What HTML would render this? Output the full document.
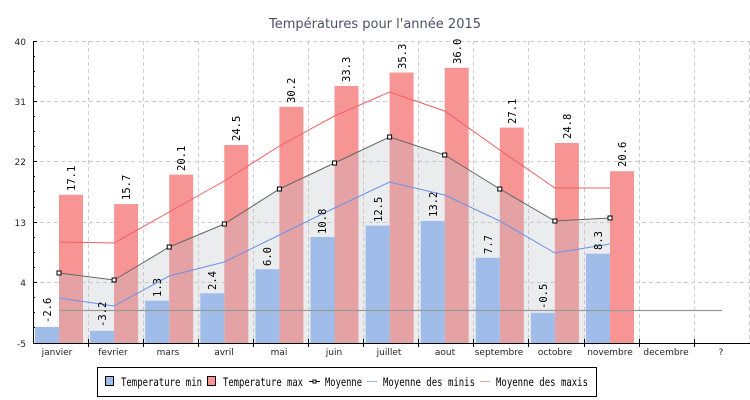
<!DOCTYPE html>
<html><head><meta charset="utf-8"><style>
body{margin:0;background:#fff;width:750px;height:400px;overflow:hidden}
svg{display:block}
.t{font-family:"DejaVu Sans","Liberation Sans",sans-serif;font-size:9px;fill:#222}
.v{font-family:"DejaVu Sans Mono","Liberation Mono",monospace;font-size:10.5px;fill:#000}
.lg{font-family:"DejaVu Sans Mono","Liberation Mono",monospace;font-size:11.5px;fill:#000}
</style></head><body>
<svg width="750" height="400" viewBox="0 0 750 400">
<text x="375" y="28" text-anchor="middle" font-family="DejaVu Sans, Liberation Sans, sans-serif" font-size="13" fill="#4a5068">Températures pour l'année 2015</text>
<g stroke="#ccc" stroke-dasharray="4,3" stroke-width="1">
<line x1="33" y1="41.5" x2="749" y2="41.5"/><line x1="33" y1="101.5" x2="749" y2="101.5"/><line x1="33" y1="161.5" x2="749" y2="161.5"/><line x1="33" y1="222.5" x2="749" y2="222.5"/><line x1="33" y1="282.5" x2="749" y2="282.5"/>
<line x1="88.5" y1="41" x2="88.5" y2="343"/><line x1="143.5" y1="41" x2="143.5" y2="343"/><line x1="198.5" y1="41" x2="198.5" y2="343"/><line x1="253.5" y1="41" x2="253.5" y2="343"/><line x1="308.5" y1="41" x2="308.5" y2="343"/><line x1="363.5" y1="41" x2="363.5" y2="343"/><line x1="418.5" y1="41" x2="418.5" y2="343"/><line x1="473.5" y1="41" x2="473.5" y2="343"/><line x1="528.5" y1="41" x2="528.5" y2="343"/><line x1="584.5" y1="41" x2="584.5" y2="343"/><line x1="639.5" y1="41" x2="639.5" y2="343"/><line x1="694.5" y1="41" x2="694.5" y2="343"/><line x1="749.5" y1="41" x2="749.5" y2="343"/>
</g>
<g fill="#f79595">
<rect x="59" y="194.7" width="24" height="148.3"/><rect x="114.1" y="204.1" width="24" height="138.9"/><rect x="169.2" y="174.6" width="24" height="168.4"/><rect x="224.3" y="145" width="24" height="198"/><rect x="279.4" y="106.8" width="24" height="236.2"/><rect x="334.5" y="86" width="24" height="257"/><rect x="389.6" y="72.5" width="24" height="270.5"/><rect x="444.7" y="67.8" width="24" height="275.2"/><rect x="499.8" y="127.6" width="24" height="215.4"/><rect x="554.9" y="143" width="24" height="200"/><rect x="610" y="171.2" width="24" height="171.8"/>
</g>
<polygon fill="rgba(190,192,198,0.3)" points="59,343 59,273 114.1,280 169.2,247 224.3,224 279.4,189 334.5,163 389.6,137 444.7,155 499.8,189 554.9,221 610,218 610,343"/>
<g fill="#a0bde9">
<rect x="35" y="326.9" width="24" height="16.1"/><rect x="90.1" y="330.9" width="24" height="12.1"/><rect x="145.2" y="300.7" width="24" height="42.3"/><rect x="200.3" y="293.3" width="24" height="49.7"/><rect x="255.4" y="269.2" width="24" height="73.8"/><rect x="310.5" y="237" width="24" height="106"/><rect x="365.6" y="225.6" width="24" height="117.4"/><rect x="420.7" y="220.9" width="24" height="122.1"/><rect x="475.8" y="257.8" width="24" height="85.2"/><rect x="530.9" y="312.8" width="24" height="30.2"/><rect x="586" y="253.7" width="24" height="89.3"/>
</g>
<line x1="59" y1="310.5" x2="722" y2="310.5" stroke="#999" stroke-width="1.2"/>
<polyline fill="none" stroke="#f06060" stroke-width="1" points="59,242 114.1,243 169.2,212 224.3,181 279.4,146 334.5,116 389.6,92 444.7,111 499.8,150 554.9,188 610,188"/>
<polyline fill="none" stroke="#6a92e6" stroke-width="1" points="59,298 114.1,306 169.2,276 224.3,262 279.4,235 334.5,208 389.6,182 444.7,195 499.8,221 554.9,253 610,244"/>
<polyline fill="none" stroke="#666" stroke-width="1" points="59,273 114.1,280 169.2,247 224.3,224 279.4,189 334.5,163 389.6,137 444.7,155 499.8,189 554.9,221 610,218"/>
<g fill="#fff" stroke="#000" stroke-width="1">
<rect x="57" y="271" width="4" height="4"/><rect x="112.1" y="278" width="4" height="4"/><rect x="167.2" y="245" width="4" height="4"/><rect x="222.3" y="222" width="4" height="4"/><rect x="277.4" y="187" width="4" height="4"/><rect x="332.5" y="161" width="4" height="4"/><rect x="387.6" y="135" width="4" height="4"/><rect x="442.7" y="153" width="4" height="4"/><rect x="497.8" y="187" width="4" height="4"/><rect x="552.9" y="219" width="4" height="4"/><rect x="608" y="216" width="4" height="4"/>
</g>
<g class="v">
<text transform="translate(51,323) rotate(-90)">-2.6</text><text transform="translate(106,327) rotate(-90)">-3.2</text><text transform="translate(161,297) rotate(-90)">1.3</text><text transform="translate(216,290) rotate(-90)">2.4</text><text transform="translate(271,266) rotate(-90)">6.0</text><text transform="translate(326,234) rotate(-90)">10.8</text><text transform="translate(382,222) rotate(-90)">12.5</text><text transform="translate(437,217) rotate(-90)">13.2</text><text transform="translate(492,254) rotate(-90)">7.7</text><text transform="translate(547,309) rotate(-90)">-0.5</text><text transform="translate(602,250) rotate(-90)">8.3</text>
<text transform="translate(75,191) rotate(-90)">17.1</text><text transform="translate(130,200) rotate(-90)">15.7</text><text transform="translate(185,171) rotate(-90)">20.1</text><text transform="translate(240,141) rotate(-90)">24.5</text><text transform="translate(295,103) rotate(-90)">30.2</text><text transform="translate(350,82) rotate(-90)">33.3</text><text transform="translate(406,69) rotate(-90)">35.3</text><text transform="translate(461,64) rotate(-90)">36.0</text><text transform="translate(516,124) rotate(-90)">27.1</text><text transform="translate(571,139) rotate(-90)">24.8</text><text transform="translate(626,167) rotate(-90)">20.6</text>
</g>
<g stroke="#000" stroke-width="1">
<line x1="33.5" y1="41" x2="33.5" y2="344"/><line x1="33" y1="343.5" x2="750" y2="343.5"/>
<line x1="33" y1="41.5" x2="37" y2="41.5"/><line x1="33" y1="101.5" x2="37" y2="101.5"/><line x1="33" y1="161.5" x2="37" y2="161.5"/><line x1="33" y1="222.5" x2="37" y2="222.5"/><line x1="33" y1="282.5" x2="37" y2="282.5"/>
<line x1="33" y1="56.5" x2="35" y2="56.5"/><line x1="33" y1="71.5" x2="35" y2="71.5"/><line x1="33" y1="86.5" x2="35" y2="86.5"/><line x1="33" y1="116.5" x2="35" y2="116.5"/><line x1="33" y1="131.5" x2="35" y2="131.5"/><line x1="33" y1="146.5" x2="35" y2="146.5"/><line x1="33" y1="176.5" x2="35" y2="176.5"/><line x1="33" y1="191.5" x2="35" y2="191.5"/><line x1="33" y1="207.5" x2="35" y2="207.5"/><line x1="33" y1="237.5" x2="35" y2="237.5"/><line x1="33" y1="252.5" x2="35" y2="252.5"/><line x1="33" y1="267.5" x2="35" y2="267.5"/><line x1="33" y1="297.5" x2="35" y2="297.5"/><line x1="33" y1="312.5" x2="35" y2="312.5"/><line x1="33" y1="327.5" x2="35" y2="327.5"/>
<line x1="88.5" y1="339" x2="88.5" y2="347"/><line x1="143.5" y1="339" x2="143.5" y2="347"/><line x1="198.5" y1="339" x2="198.5" y2="347"/><line x1="253.5" y1="339" x2="253.5" y2="347"/><line x1="308.5" y1="339" x2="308.5" y2="347"/><line x1="363.5" y1="339" x2="363.5" y2="347"/><line x1="418.5" y1="339" x2="418.5" y2="347"/><line x1="473.5" y1="339" x2="473.5" y2="347"/><line x1="528.5" y1="339" x2="528.5" y2="347"/><line x1="584.5" y1="339" x2="584.5" y2="347"/><line x1="639.5" y1="339" x2="639.5" y2="347"/><line x1="694.5" y1="339" x2="694.5" y2="347"/>
</g>
<g class="t" text-anchor="end">
<text x="26" y="45">40</text><text x="26" y="105">31</text><text x="26" y="165">22</text><text x="26" y="226">13</text><text x="26" y="286">4</text><text x="26" y="347">-5</text>
</g>
<g class="t" text-anchor="middle">
<text x="57" y="355">janvier</text><text x="113" y="355">fevrier</text><text x="168" y="355">mars</text><text x="224" y="355">avril</text><text x="279" y="355">mai</text><text x="334" y="355">juin</text><text x="389" y="355">juillet</text><text x="445" y="355">aout</text><text x="499" y="355">septembre</text><text x="555" y="355">octobre</text><text x="610" y="355">novembre</text><text x="666" y="355">decembre</text><text x="721" y="355">?</text>
</g>
<rect x="97.5" y="367.5" width="499" height="29" fill="#fff" stroke="#000"/>
<rect x="105.5" y="376.5" width="8" height="9" fill="#a0bde9" stroke="#000"/>
<text class="lg" x="121" y="386" textLength="81" lengthAdjust="spacingAndGlyphs">Temperature min</text>
<rect x="207.5" y="376.5" width="8" height="9" fill="#f79595" stroke="#000"/>
<text class="lg" x="223" y="386" textLength="80" lengthAdjust="spacingAndGlyphs">Temperature max</text>
<line x1="309" y1="381.5" x2="320" y2="381.5" stroke="#000"/><rect x="313" y="380" width="3" height="3" fill="#fff" stroke="#000"/>
<text class="lg" x="325" y="386" textLength="37" lengthAdjust="spacingAndGlyphs">Moyenne</text>
<line x1="367" y1="381.5" x2="377" y2="381.5" stroke="#9bb6ea"/>
<text class="lg" x="383" y="386" textLength="92" lengthAdjust="spacingAndGlyphs">Moyenne des minis</text>
<line x1="480" y1="381.5" x2="490" y2="381.5" stroke="#f0a0a0"/>
<text class="lg" x="496" y="386" textLength="92" lengthAdjust="spacingAndGlyphs">Moyenne des maxis</text>
</svg>
</body></html>
